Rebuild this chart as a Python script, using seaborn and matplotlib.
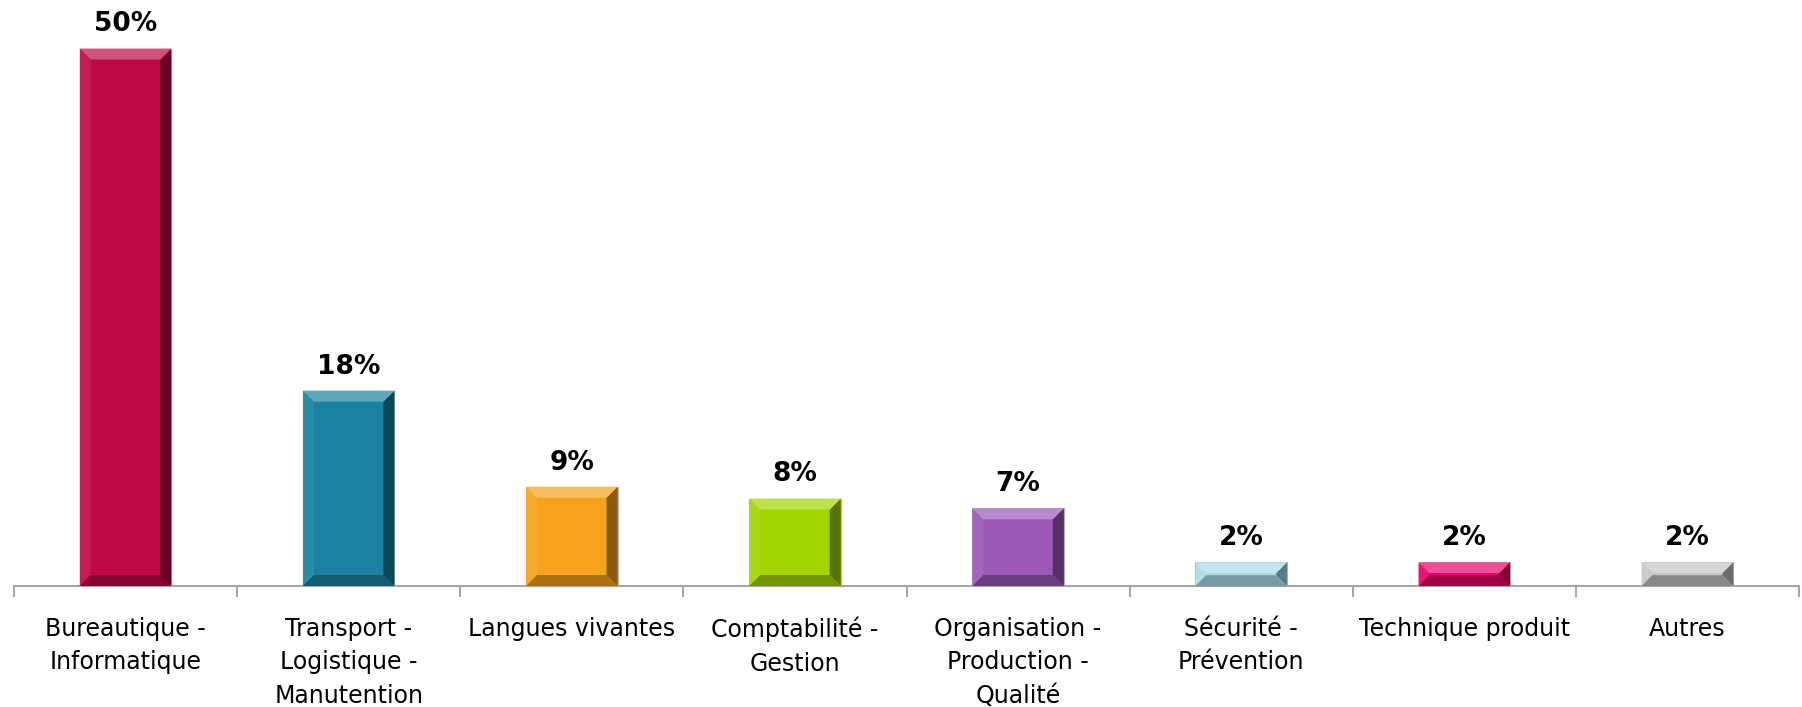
import matplotlib
matplotlib.use("Agg")
import matplotlib.pyplot as plt
import matplotlib.colors as mcolors
from matplotlib.patches import Polygon
import seaborn as sns
import pandas as pd
import numpy as np

categories = ["Bureautique -\nInformatique", "Transport -\nLogistique -\nManutention",
              "Langues vivantes", "Comptabilité -\nGestion",
              "Organisation -\nProduction -\nQualité", "Sécurité -\nPrévention",
              "Technique produit", "Autres"]
values = [49.8, 18.1, 9.2, 8.1, 7.2, 2.2, 2.2, 2.2]
labels = ["50%", "18%", "9%", "8%", "7%", "2%", "2%", "2%"]
colors = ["#BF0848", "#1A82A0", "#F7A21E", "#A2D400", "#9B58B5", "#A9DCE6", "#E9006A", "#C4C4C4"]

sns.set_theme(style="white")
plt.rcParams['font.family'] = ['DejaVu Sans']

fig = plt.figure(figsize=(18.02, 7.07), dpi=100)
ax = fig.add_axes([14/1802, 121/707, (1799-14)/1802, 586/707])

df = pd.DataFrame({"cat": categories, "val": values})
sns.barplot(data=df, x="cat", y="val", hue="cat", palette=colors, legend=False,
            width=0.41, ax=ax, edgecolor="#B0B0B0", linewidth=0.8, saturation=1)

ax.set_xlim(-0.5, len(categories) - 0.5)
ax.set_ylim(0, 54.3)
ax.set_xlabel("")
ax.set_ylabel("")
ax.set_yticks([])
for s in ["top", "right", "left"]:
    ax.spines[s].set_visible(False)
ax.spines["bottom"].set_color("#A6A6A6")
ax.spines["bottom"].set_linewidth(1.5)

ax.set_xticks(range(len(categories)))
ax.set_xticklabels(categories, fontsize=17, linespacing=1.5, multialignment="center")
ax.tick_params(axis="x", which="major", length=0, pad=22, colors="black")
ax.set_xticks(np.arange(-0.5, len(categories), 1.0), minor=True)
ax.tick_params(axis="x", which="minor", length=8, width=1.5, color="#A6A6A6", bottom=True)

for i, (v, lab) in enumerate(zip(values, labels)):
    ax.annotate(lab, (i, v), xytext=(0, 8), textcoords="offset points",
                ha="center", va="bottom", fontsize=19, fontweight="bold", color="black")

# bevel effect
fig.canvas.draw()
inv = ax.transData.inverted()
def blend(c, other, t):
    c = np.array(mcolors.to_rgb(c)); o = np.array(mcolors.to_rgb(other))
    return tuple(c * (1 - t) + o * t)

for p, col in zip(ax.patches, colors):
    x0, y0, w, h = p.get_x(), p.get_y(), p.get_width(), p.get_height()
    (px0, py0) = ax.transData.transform((x0, y0))
    (px1, py1) = ax.transData.transform((x0 + w, y0 + h))
    b = min(11, (py1 - py0) / 2.2, (px1 - px0) / 2.2)
    pts = {
        "top": [(px0, py1), (px1, py1), (px1 - b, py1 - b), (px0 + b, py1 - b)],
        "bottom": [(px0, py0), (px1, py0), (px1 - b, py0 + b), (px0 + b, py0 + b)],
        "left": [(px0, py0), (px0, py1), (px0 + b, py1 - b), (px0 + b, py0 + b)],
        "right": [(px1, py0), (px1, py1), (px1 - b, py1 - b), (px1 - b, py0 + b)],
    }
    shades = {"top": blend(col, "white", 0.3), "left": blend(col, "white", 0.08),
              "right": blend(col, "black", 0.45), "bottom": blend(col, "black", 0.3)}
    for k in ["left", "right", "top", "bottom"]:
        d = inv.transform(np.array(pts[k]))
        ax.add_patch(Polygon(d, closed=True, facecolor=shades[k], edgecolor="none", zorder=3))

fig.savefig("out.png", dpi=100)
